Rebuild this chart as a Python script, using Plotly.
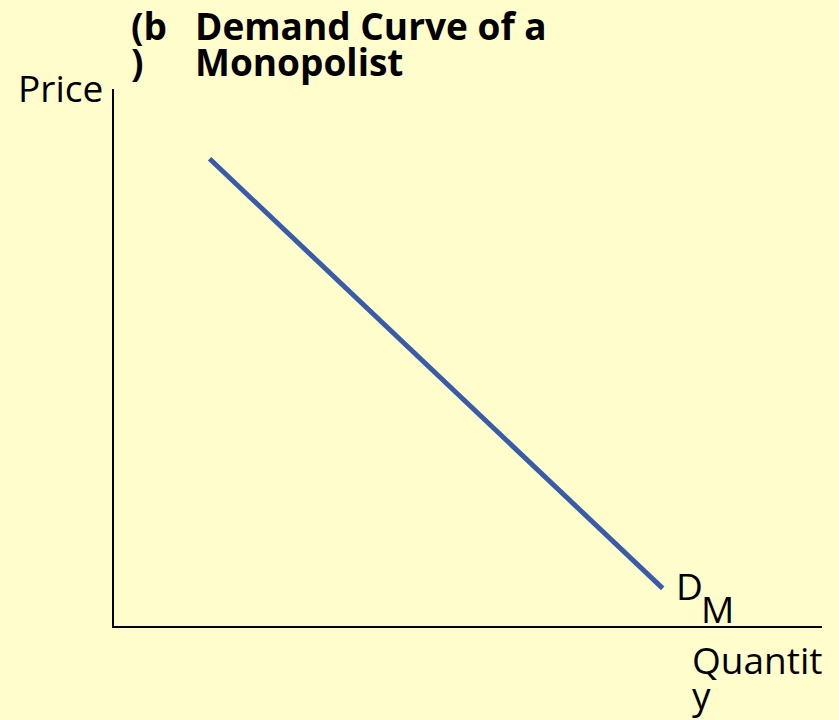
import plotly.graph_objects as go

# Data
demand_x = [1.35, 7.75]
demand_y = [8.7, 0.7]
title_prefix_lines = ["(b", ")"]
title_lines = ["Demand Curve of a", "Monopolist"]
y_label = "Price"
x_label_lines = ["Quantit", "y"]
curve_label_main = "D"
curve_label_sub = "M"

BG = "#FFFDCC"
BLUE = "#3A5BA8"
FONT = "Open Sans"
FS = 37

L, T, W, H = 114, 89, 708, 537


def px_x(x):
    return (x - L) / W


def px_y_top(cap_top, fs=FS):
    # convert target cap-top pixel to annotation box top (paper coords)
    top = cap_top - 0.42 * fs
    return (T + H - top) / H


fig = go.Figure()
fig.add_trace(go.Scatter(x=demand_x, y=demand_y, mode="lines",
                         line=dict(color=BLUE, width=5), hoverinfo="skip",
                         showlegend=False))

fig.update_layout(
    width=839, height=720,
    paper_bgcolor=BG, plot_bgcolor=BG,
    margin=dict(l=L, r=839 - L - W, t=T, b=720 - T - H),
    font=dict(family=FONT, size=FS, color="black"),
    xaxis=dict(range=[0, 10], showgrid=False, zeroline=False, showticklabels=False,
               ticks="", showline=True, linecolor="black", linewidth=2),
    yaxis=dict(range=[0, 10], showgrid=False, zeroline=False, showticklabels=False,
               ticks="", showline=True, linecolor="black", linewidth=2),
    showlegend=False,
)


def ann(text, x, cap_top, xanchor="left", bold=False, fs=FS):
    f = dict(family=FONT, size=fs, color="black")
    if bold:
        f["weight"] = "bold"
    fig.add_annotation(text=text, xref="paper", yref="paper",
                       x=px_x(x), y=px_y_top(cap_top, fs),
                       xanchor=xanchor, yanchor="top", showarrow=False,
                       align=xanchor, font=f)


ann(title_prefix_lines[0], 129, 14, bold=True)
ann(title_prefix_lines[1], 129, 50, bold=True)
ann(title_lines[0], 193, 14, bold=True)
ann(title_lines[1], 193, 50, bold=True)
ann(y_label, 105, 76, xanchor="right")
ann(x_label_lines[0], 690, 648)
ann(x_label_lines[1], 690, 683)
ann(curve_label_main, 674, 574)
ann(curve_label_sub, 699, 597)

fig.write_html(
    "out.html",
    config={"displayModeBar": False},
    post_script="document.body.style.margin='0';document.body.style.background='%s';" % BG,
)
